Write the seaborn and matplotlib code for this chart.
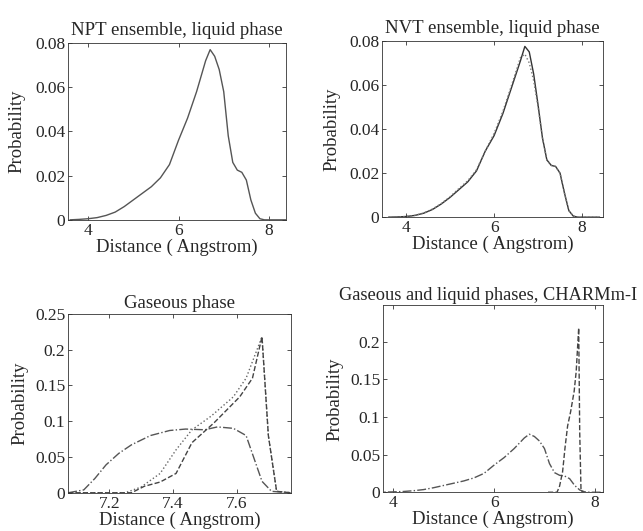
import numpy as np
import pandas as pd
import matplotlib
matplotlib.use("Agg")
import matplotlib.pyplot as plt
from matplotlib.ticker import FuncFormatter
import seaborn as sns

# liquid phase distance grid (Angstrom)
liq_x = [3.6, 3.8, 4.0, 4.2, 4.4, 4.6, 4.8, 5.0, 5.2, 5.4, 5.6, 5.8, 6.0, 6.2, 6.4,
         6.6, 6.7, 6.8, 6.9, 7.0, 7.1, 7.2, 7.3, 7.4, 7.5, 7.6, 7.7, 7.8, 7.9, 8.0, 8.2, 8.4]

# NPT ensemble, liquid phase
npt_y = [0, 0.0002, 0.0005, 0.001, 0.002, 0.0035, 0.006, 0.009, 0.012, 0.015, 0.019,
         0.025, 0.036, 0.046, 0.058, 0.072, 0.077, 0.074, 0.068, 0.058, 0.038, 0.026,
         0.0225, 0.0215, 0.018, 0.009, 0.003, 0.0005, 0, 0, 0, 0]

# NVT ensemble, liquid phase (two runs)
nvt_y1 = [0, 0.0001, 0.0003, 0.0008, 0.0018, 0.0035, 0.006, 0.009, 0.0125, 0.016, 0.021,
          0.030, 0.037, 0.047, 0.059, 0.071, 0.0775, 0.075, 0.065, 0.051, 0.036, 0.026,
          0.0235, 0.023, 0.020, 0.011, 0.003, 0.0005, 0, 0, 0, 0]
nvt_y2 = [0, 0.0001, 0.0003, 0.0008, 0.0019, 0.0037, 0.0062, 0.0093, 0.013, 0.0165, 0.0215,
          0.030, 0.038, 0.048, 0.060, 0.0725, 0.074, 0.070, 0.062, 0.050, 0.036, 0.026,
          0.0235, 0.023, 0.020, 0.011, 0.003, 0.0005, 0, 0, 0, 0]

# Gaseous phase curves
gas_a_x = [7.071, 7.12, 7.155, 7.19, 7.23, 7.27, 7.33, 7.39, 7.44, 7.50, 7.54, 7.59, 7.63, 7.68, 7.71, 7.77]
gas_a_y = [0, 0.004, 0.02, 0.039, 0.055, 0.067, 0.080, 0.087, 0.089, 0.088, 0.092, 0.090, 0.080, 0.016, 0.002, 0]

gas_b_x = [7.071, 7.25, 7.30, 7.36, 7.41, 7.46, 7.52, 7.59, 7.63, 7.68, 7.70, 7.726, 7.77]
gas_b_y = [0, 0, 0.008, 0.027, 0.060, 0.088, 0.107, 0.134, 0.160, 0.218, 0.080, 0.002, 0]

gas_c_x = [7.071, 7.27, 7.31, 7.36, 7.41, 7.46, 7.53, 7.61, 7.65, 7.68, 7.70, 7.726, 7.77]
gas_c_y = [0, 0, 0.009, 0.015, 0.027, 0.070, 0.098, 0.134, 0.160, 0.218, 0.080, 0.002, 0]

sns.set_theme(style="ticks")
plt.rcParams["font.family"] = ["Liberation Serif", "DejaVu Serif"]
plt.rcParams["axes.linewidth"] = 0.6

fig = plt.figure(figsize=(6.43, 5.31), dpi=100)
ax_tl = fig.add_axes([0.106, 0.586, 0.339, 0.333])
ax_tr = fig.add_axes([0.594, 0.591, 0.344, 0.332])
ax_bl = fig.add_axes([0.106, 0.072, 0.346, 0.337])
ax_br = fig.add_axes([0.596, 0.073, 0.342, 0.352])

fmt = FuncFormatter(lambda v, p: "%g" % v)

# NPT
sns.lineplot(x=liq_x, y=npt_y, ax=ax_tl, color="#555555", linewidth=1.0)
ax_tl.set_xlim(3.56, 8.38)
ax_tl.set_ylim(0, 0.08)
ax_tl.set_yticks([0, 0.02, 0.04, 0.06, 0.08])
ax_tl.set_xticks([4, 6, 8])
ax_tl.set_title("NPT ensemble, liquid phase", pad=6)
ax_tl.yaxis.set_label_coords(-0.197, 0.5)

# NVT
sns.lineplot(x=liq_x, y=nvt_y1, ax=ax_tr, color="#333333", linewidth=1.0)
sns.lineplot(x=liq_x, y=nvt_y2, ax=ax_tr, color="#777777", linewidth=1.0, linestyle=":")
ax_tr.set_xlim(3.45, 8.48)
ax_tr.set_ylim(0, 0.08)
ax_tr.set_yticks([0, 0.02, 0.04, 0.06, 0.08])
ax_tr.set_xticks([4, 6, 8])
ax_tr.set_title("NVT ensemble, liquid phase", pad=6)
ax_tr.yaxis.set_label_coords(-0.186, 0.5)

# Gaseous
sns.lineplot(x=gas_a_x, y=gas_a_y, ax=ax_bl, color="#555555", linewidth=1.0, linestyle="-.")
sns.lineplot(x=gas_b_x, y=gas_b_y, ax=ax_bl, color="#666666", linewidth=1.0, linestyle=":")
sns.lineplot(x=gas_c_x, y=gas_c_y, ax=ax_bl, color="#444444", linewidth=1.0, linestyle="--")
ax_bl.set_xlim(7.071, 7.77)
ax_bl.set_ylim(0, 0.25)
ax_bl.set_yticks([0, 0.05, 0.1, 0.15, 0.2, 0.25])
ax_bl.set_xticks([7.2, 7.4, 7.6])
ax_bl.set_title("Gaseous phase", pad=4)
ax_bl.yaxis.set_label_coords(-0.18, 0.5)

# Gaseous and liquid
sns.lineplot(x=liq_x, y=npt_y, ax=ax_br, color="#555555", linewidth=1.0, linestyle="-.")
sns.lineplot(x=gas_b_x, y=gas_b_y, ax=ax_br, color="#444444", linewidth=1.0, linestyle="--")
ax_br.set_xlim(3.8, 8.165)
ax_br.set_ylim(0, 0.248)
ax_br.set_yticks([0, 0.05, 0.1, 0.15, 0.2])
ax_br.set_xticks([4, 6, 8])
ax_br.text(-0.2, 1.005, "Gaseous and liquid phases, CHARMm-I", transform=ax_br.transAxes,
           ha="left", va="bottom", fontsize=13.2)
ax_br.yaxis.set_label_coords(-0.181, 0.5)

for ax in [ax_tl, ax_tr, ax_bl, ax_br]:
    ax.xaxis.set_major_formatter(fmt)
    ax.yaxis.set_major_formatter(fmt)
    ax.set_xlabel("Distance ( Angstrom)", fontsize=13.5, labelpad=0)
    ax.set_ylabel("Probability", fontsize=13.5)
    ax.tick_params(direction="in", top=True, right=True, length=3, width=0.6,
                   labelsize=12.5, pad=2, color="#333333")
    ax.title.set_fontsize(13.5)
    for s in ax.spines.values():
        s.set_visible(True)
        s.set_color("#333333")

fig.savefig("out.png", dpi=100, facecolor="white")
